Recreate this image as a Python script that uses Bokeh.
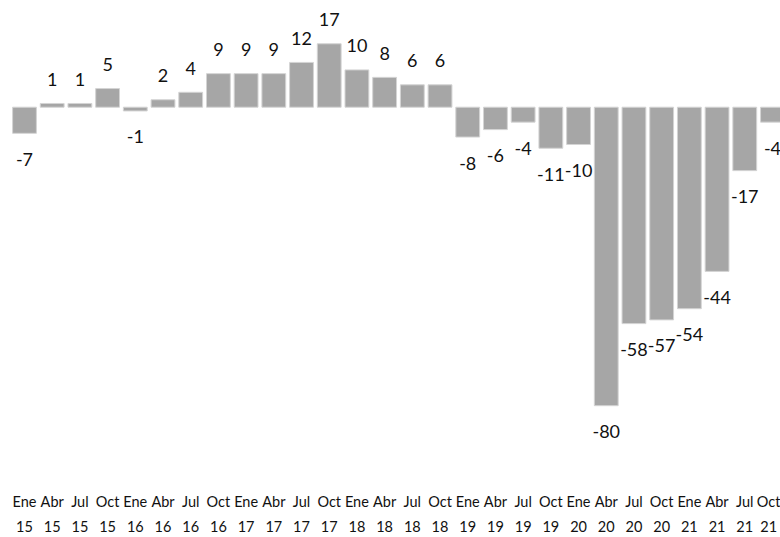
from bokeh.plotting import figure
from bokeh.models import ColumnDataSource, FixedTicker, Range1d
from bokeh.core.properties import value
from bokeh.embed import file_html
from bokeh.resources import INLINE

quarters = ["Ene", "Abr", "Jul", "Oct"]
years = ["15", "16", "17", "18", "19", "20", "21"]
values = [-7, 1, 1, 5, -1, 2, 4, 9, 9, 9, 12, 17, 10, 8, 6, 6,
          -8, -6, -4, -11, -10, -80, -58, -57, -54, -44, -17, -4]

labels = [f"{q}\n{y}" for y in years for q in quarters]
xs = list(range(len(values)))

src = ColumnDataSource(dict(
    x=xs,
    top=[max(v, 0) for v in values],
    bottom=[min(v, 0) for v in values],
))
pos = ColumnDataSource(dict(x=[i for i, v in zip(xs, values) if v >= 0],
                            y=[v for v in values if v >= 0],
                            txt=[str(v) for v in values if v >= 0]))
neg = ColumnDataSource(dict(x=[i for i, v in zip(xs, values) if v < 0],
                            y=[v for v in values if v < 0],
                            txt=[str(v) for v in values if v < 0]))

p = figure(width=780, height=537, output_backend="svg", toolbar_location=None,
           x_range=Range1d(-0.866, 27.29), y_range=Range1d(-97.1, 28.6),
           min_border_left=0, min_border_right=0, min_border_top=0, min_border_bottom=0)
p.outline_line_color = None
p.background_fill_color = "white"
p.grid.visible = False
p.yaxis.visible = False

p.vbar(x="x", top="top", bottom="bottom", width=0.86, source=src,
       fill_color="#A6A6A6", line_color="#D4D4D4", line_width=1)

p.text(x="x", y="y", text="txt", source=pos, text_align="center", text_baseline="middle",
       y_offset=-24, text_font=value("Lato"), text_font_size="18px", text_color="#111111")
p.text(x="x", y="y", text="txt", source=neg, text_align="center", text_baseline="middle",
       y_offset=26, text_font=value("Lato"), text_font_size="18px", text_color="#111111")

ax = p.xaxis[0]
ax.ticker = FixedTicker(ticks=xs)
ax.major_label_overrides = {i: lab for i, lab in zip(xs, labels)}
ax.axis_line_color = None
ax.major_tick_line_color = None
ax.minor_tick_line_color = None
ax.major_label_text_font = "Lato"
ax.major_label_text_font_size = "14.5px"
ax.major_label_text_color = "#111111"
ax.major_label_text_line_height = 1.48
ax.major_label_standoff = 17

open("out.html", "w").write(file_html(p, INLINE))
